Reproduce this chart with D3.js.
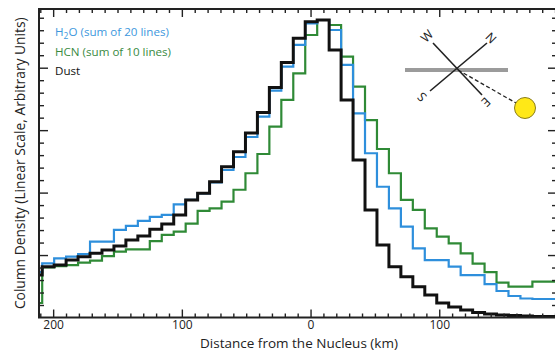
<!DOCTYPE html>
<html>
<head>
<meta charset="utf-8">
<script src="https://cdn.jsdelivr.net/npm/d3@7"></script>
<style>
  body { margin: 0; background: #fff; }
  svg { display: block; font-family: "Open Sans", Lato, sans-serif; }
</style>
</head>
<body>
<div id="chart"></div>
<script>
// bins along the slit (km, sunward side negative on this axis orientation)
const binStart = -217.8;
const binWidth = 9.29;

// column density per bin, arbitrary units
const dust = [3.40, 4.07, 4.20, 4.60, 4.87, 5.14, 5.40, 5.72, 6.20, 6.53, 7.06, 7.49, 8.21, 9.41, 9.94, 10.87,
  12.07, 13.27, 14.77, 16.41, 18.41, 20.42, 22.35, 23.68, 23.82, 21.42, 17.41, 12.61, 8.61, 5.80, 4.07, 3.27,
  2.47, 1.80, 1.16, 0.84, 0.60, 0.40, 0.28, 0.20, 0.16, 0.12, 0.08, 0.08];
const h2o = [3.64, 4.34, 4.74, 4.87, 5.08, 6.07, 6.07, 7.01, 7.33, 7.73, 8.05, 8.21, 9.05, 9.41, 9.94, 10.81,
  11.81, 12.85, 14.45, 16.08, 18.17, 20.08, 21.82, 23.55, 23.82, 23.02, 20.22, 16.35, 13.15, 10.47, 8.74, 7.27,
  5.54, 4.60, 4.60, 4.07, 3.40, 3.40, 2.68, 2.12, 1.72, 1.52, 1.48, 1.48];
const hcn = [1.16, 4.02, 4.12, 4.20, 4.39, 4.55, 4.92, 5.27, 5.46, 5.46, 6.12, 6.61, 6.87, 7.51, 8.53, 8.74,
  9.27, 10.23, 11.55, 13.09, 15.28, 17.42, 19.55, 22.62, 23.82, 23.42, 20.88, 18.48, 15.81, 13.49, 11.55, 9.41,
  8.61, 7.14, 6.47, 5.94, 5.14, 4.32, 3.64, 2.80, 2.47, 2.47, 2.87, 2.87];

const xMajorTicks = [-200, -100, 0, 100];
const xTickLabels = ["200", "100", "0", "100"];

const series = [
  { name: "HCN", values: hcn, color: "#2f8a36", width: 2.2 },
  { name: "H2O", values: h2o, color: "#2e8fdc", width: 2.2 },
  { name: "Dust", values: dust, color: "#111111", width: 3 }
];

const W = 555, H = 352;
const plot = { left: 39, right: 557, top: 9, bottom: 317.5 };

const svg = d3.select("#chart").append("svg")
  .attr("width", W).attr("height", H);

svg.append("rect").attr("width", W).attr("height", H).attr("fill", "#fff");

const x = d3.scaleLinear().domain([-211, 191.5]).range([plot.left, plot.right]);
const y = d3.scaleLinear().domain([0, 24.7]).range([plot.bottom, plot.top]);

svg.append("defs").append("clipPath").attr("id", "clip")
  .append("rect")
  .attr("x", plot.left).attr("y", plot.top)
  .attr("width", plot.right - plot.left).attr("height", plot.bottom - plot.top);

// step lines
const line = d3.line()
  .x(d => x(d[0]))
  .y(d => y(d[1]))
  .curve(d3.curveStepAfter);

const g = svg.append("g").attr("clip-path", "url(#clip)");
series.forEach(s => {
  const pts = s.values.map((v, i) => [binStart + i * binWidth, v]);
  pts.push([binStart + s.values.length * binWidth, s.values[s.values.length - 1]]);
  g.append("path")
    .datum(pts)
    .attr("fill", "none")
    .attr("stroke", s.color)
    .attr("stroke-width", s.width)
    .attr("stroke-linejoin", "miter")
    .attr("d", line);
});

// axes (ticks inward on all four sides)
const xMinor = d3.range(-210, 191, 10).filter(t => !xMajorTicks.includes(t));
const yMinor = d3.range(1, 25).filter(t => t % 5 !== 0);
const yMajor = [5, 10, 15, 20];

const bottomAx = svg.append("g").attr("transform", `translate(0,${plot.bottom})`)
  .call(d3.axisBottom(x).tickValues(xMajorTicks).tickSize(-8).tickFormat((d, i) => xTickLabels[i]));
svg.append("g").attr("transform", `translate(0,${plot.bottom})`)
  .call(d3.axisBottom(x).tickValues(xMinor).tickSize(-4).tickFormat(""));
svg.append("g").attr("transform", `translate(0,${plot.top})`)
  .call(d3.axisTop(x).tickValues(xMajorTicks).tickSize(-8).tickFormat(""));
svg.append("g").attr("transform", `translate(0,${plot.top})`)
  .call(d3.axisTop(x).tickValues(xMinor).tickSize(-4).tickFormat(""));
svg.append("g").attr("transform", `translate(${plot.left},0)`)
  .call(d3.axisLeft(y).tickValues(yMajor).tickSize(-9).tickFormat(""));
svg.append("g").attr("transform", `translate(${plot.left},0)`)
  .call(d3.axisLeft(y).tickValues(yMinor).tickSize(-5).tickFormat(""));
svg.append("g").attr("transform", `translate(${plot.right},0)`)
  .call(d3.axisRight(y).tickValues(yMajor).tickSize(-9).tickFormat(""));
svg.append("g").attr("transform", `translate(${plot.right},0)`)
  .call(d3.axisRight(y).tickValues(yMinor).tickSize(-5).tickFormat(""));

svg.selectAll(".domain").remove();
svg.selectAll(".tick line").attr("stroke", "#222").attr("stroke-width", 1.4);
bottomAx.selectAll("text")
  .attr("y", 3)
  .style("font-size", "12px")
  .style("font-family", "'Open Sans', sans-serif")
  .attr("fill", "#222");

// frame
svg.append("rect")
  .attr("x", plot.left).attr("y", plot.top)
  .attr("width", plot.right - plot.left).attr("height", plot.bottom - plot.top)
  .attr("fill", "none").attr("stroke", "#222").attr("stroke-width", 2);

// axis titles
svg.append("text")
  .attr("x", (plot.left + plot.right) / 2 + 1).attr("y", 347.5)
  .attr("text-anchor", "middle")
  .style("font-size", "13.5px").attr("fill", "#222")
  .text("Distance from the Nucleus (km)");

svg.append("text")
  .attr("transform", `translate(25,${(plot.top + plot.bottom) / 2}) rotate(-90)`)
  .attr("text-anchor", "middle")
  .style("font-size", "13.8px").attr("fill", "#222")
  .text("Column Density (Linear Scale, Arbitrary Units)");

// legend
const legend = svg.append("g").style("font-size", "11.6px");
const h2oText = legend.append("text").attr("x", 55).attr("y", 36).attr("fill", "#3d97dd");
h2oText.append("tspan").text("H");
h2oText.append("tspan").text("2").attr("dy", 3).style("font-size", "8.5px");
h2oText.append("tspan").text("O (sum of 20 lines)").attr("dy", -3);
legend.append("text").attr("x", 55).attr("y", 56).attr("fill", "#3a8a3f").text("HCN (sum of 10 lines)");
legend.append("text").attr("x", 55).attr("y", 75).attr("fill", "#111").text("Dust");

// orientation compass
const comp = svg.append("g");
comp.append("line").attr("x1", 405).attr("x2", 508).attr("y1", 70).attr("y2", 70)
  .attr("stroke", "#9b9b9b").attr("stroke-width", 4);
comp.append("line").attr("x1", 433).attr("y1", 43).attr("x2", 482).attr("y2", 95)
  .attr("stroke", "#222").attr("stroke-width", 1.6);
comp.append("line").attr("x1", 430).attr("y1", 91).attr("x2", 487).attr("y2", 43)
  .attr("stroke", "#222").attr("stroke-width", 1.6);
comp.append("line").attr("x1", 458).attr("y1", 70).attr("x2", 516).attr("y2", 103)
  .attr("stroke", "#222").attr("stroke-width", 1.3).attr("stroke-dasharray", "4,2.5");
comp.append("circle").attr("cx", 525).attr("cy", 108).attr("r", 10.5)
  .attr("fill", "#ffe817").attr("stroke", "#8a7d1a").attr("stroke-width", 1);
[["W", 427, 36, -45], ["N", 491, 38, 45], ["S", 422, 97, -135], ["E", 486, 102, 135]].forEach(([t, cx, cy, r]) => {
  comp.append("text")
    .attr("transform", `translate(${cx},${cy}) rotate(${r})`)
    .attr("text-anchor", "middle").attr("dy", "0.35em")
    .style("font-size", "12.5px").attr("fill", "#222")
    .text(t);
});
</script>
</body>
</html>
